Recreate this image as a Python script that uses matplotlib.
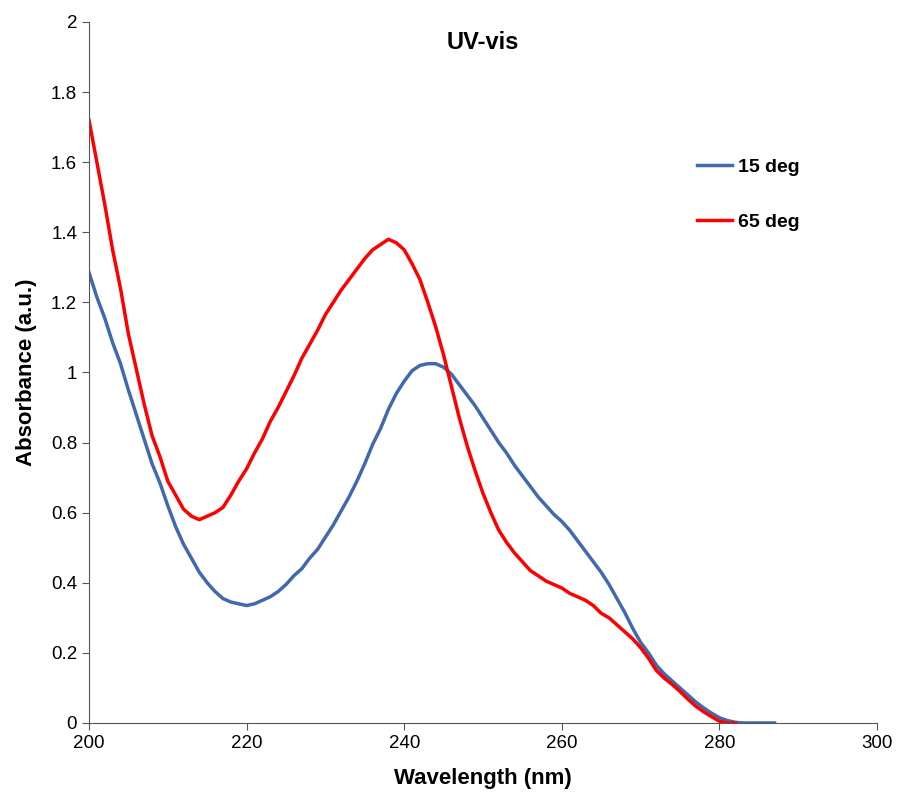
import matplotlib.pyplot as plt
import numpy as np

plt.rcParams['font.family'] = ['Liberation Sans', 'DejaVu Sans']

# wavelength grid, 1 nm steps
wl_65 = np.arange(200, 283)
abs_65 = [1.72, 1.60, 1.48, 1.35, 1.24, 1.11, 1.01, 0.91, 0.82, 0.76,
          0.69, 0.65, 0.61, 0.59, 0.58, 0.59, 0.60, 0.615, 0.65, 0.69,
          0.725, 0.77, 0.81, 0.86, 0.90, 0.945, 0.99, 1.04, 1.08, 1.12,
          1.165, 1.20, 1.235, 1.265, 1.295, 1.325, 1.35, 1.365, 1.38, 1.37,
          1.35, 1.31, 1.265, 1.20, 1.13, 1.05, 0.96, 0.87, 0.79, 0.72,
          0.655, 0.60, 0.55, 0.515, 0.485, 0.46, 0.435, 0.42, 0.405, 0.395,
          0.385, 0.37, 0.36, 0.35, 0.335, 0.313, 0.30, 0.28, 0.26, 0.24,
          0.215, 0.185, 0.15, 0.128, 0.11, 0.09, 0.068, 0.048, 0.032, 0.018,
          0.005, 0.0, 0.0]

wl_15 = np.arange(200, 288)
abs_15 = [1.285, 1.215, 1.155, 1.085, 1.025, 0.95, 0.88, 0.81, 0.74, 0.685,
          0.62, 0.56, 0.51, 0.47, 0.43, 0.40, 0.375, 0.355, 0.345, 0.34,
          0.335, 0.34, 0.35, 0.36, 0.375, 0.395, 0.42, 0.44, 0.47, 0.495,
          0.53, 0.565, 0.605, 0.645, 0.69, 0.74, 0.795, 0.84, 0.895, 0.94,
          0.975, 1.005, 1.02, 1.025, 1.025, 1.015, 0.995, 0.965, 0.935, 0.905,
          0.87, 0.835, 0.80, 0.77, 0.735, 0.705, 0.675, 0.645, 0.62, 0.595,
          0.575, 0.55, 0.52, 0.49, 0.46, 0.43, 0.395, 0.355, 0.315, 0.27,
          0.23, 0.20, 0.165, 0.14, 0.12, 0.10, 0.08, 0.06, 0.043, 0.028,
          0.015, 0.007, 0.002, 0.0, 0.0, 0.0, 0.0, 0.0]

fig = plt.figure(figsize=(8.97, 7.93), dpi=100)
ax = fig.add_axes([0.0992, 0.0883, 0.8785, 0.884])

ax.plot(wl_15, abs_15, color='#4169B0', lw=2.5, label='15 deg')
ax.plot(wl_65, abs_65, color='#FF0000', lw=2.5, label='65 deg')

ax.set_xlim(200, 300)
ax.set_ylim(0, 2)
ax.set_xticks(np.arange(200, 301, 20))
ax.set_yticks(np.arange(0, 2.01, 0.2))
ax.set_yticklabels(['0', '0.2', '0.4', '0.6', '0.8', '1', '1.2', '1.4', '1.6', '1.8', '2'])

ax.spines['right'].set_color('none')
ax.spines['top'].set_color('none')
ax.spines['left'].set_color('#555555')
ax.spines['bottom'].set_color('#555555')
ax.tick_params(direction='out', length=5, color='#555555', labelsize=13.5)

ax.set_xlabel('Wavelength (nm)', fontsize=16, fontweight='bold', labelpad=12)
ax.set_ylabel('Absorbance (a.u.)', fontsize=16, fontweight='bold', labelpad=10)
ax.set_title('UV-vis', fontsize=17, fontweight='bold', y=0.95)

leg = ax.legend(loc='upper left', bbox_to_anchor=(0.75, 0.83), frameon=False,
                labelspacing=1.9, handlelength=1.8, handletextpad=0.3,
                prop={'weight': 'bold', 'size': 14})

fig.savefig('out.png', dpi=100)
